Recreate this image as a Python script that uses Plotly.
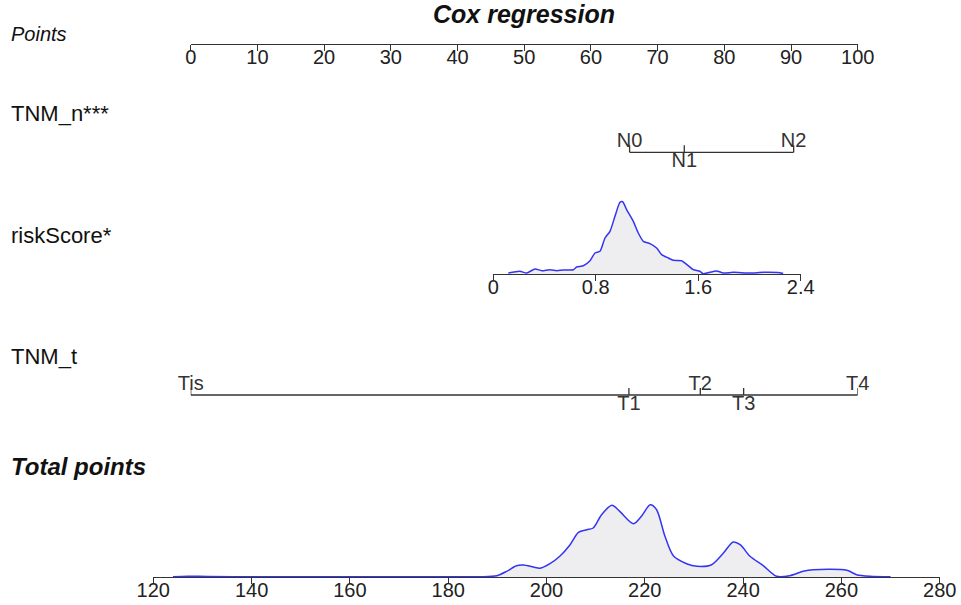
import plotly.graph_objects as go

# ---------------- data ----------------
points_ticks = [0, 10, 20, 30, 40, 50, 60, 70, 80, 90, 100]

tnm_n_levels = ["N0", "N1", "N2"]
tnm_n_points = [65.8, 74.0, 90.4]
tnm_n_side = ["top", "bottom", "top"]

tnm_t_levels = ["Tis", "T1", "T2", "T3", "T4"]
tnm_t_points = [0, 65.7, 76.4, 82.9, 100]
tnm_t_side = ["top", "bottom", "top", "bottom", "top"]

risk_ticks = [0, 0.8, 1.6, 2.4]
risk_ticktext = ["0", "0.8", "1.6", "2.4"]
risk_x = [0.117, 0.208, 0.26, 0.326, 0.378, 0.443, 0.495, 0.547, 0.625, 0.651, 0.703,
          0.755, 0.794, 0.833, 0.872, 0.911, 0.950, 0.989, 1.010, 1.041, 1.093, 1.132,
          1.171, 1.223, 1.275, 1.314, 1.366, 1.405, 1.470, 1.522, 1.561, 1.613, 1.639,
          1.743, 1.795, 1.873, 2.003, 2.107, 2.237, 2.263]
risk_density = [1.0, 2.7, 1.0, 5.0, 3.3, 4.3, 3.3, 4.0, 4.3, 7.0, 8.3,
                 13.3, 21.0, 22.7, 36.0, 42.7, 57.7, 71.7, 72.3, 64.3, 52.7, 41.0,
                 32.7, 30.3, 26.0, 19.3, 16.0, 13.7, 13.3, 8.3, 4.3, 2.7, 0.3,
                 3.0, 1.0, 1.7, 1.0, 1.7, 1.3, 0.5]

total_ticks = [120, 140, 160, 180, 200, 220, 240, 260, 280]
total_x = [124, 127, 131, 140, 160, 180, 186.5, 189.9, 191.9, 193.9, 195.3, 197.3, 198.7,
           200.7, 202.7, 204.8, 206.5, 208.2, 209.5, 211.2, 213.3, 214.9, 217.7,
           219.4, 221.1, 222.4, 224.1, 225.8, 228.5, 230.6, 233.6, 236.0, 238.0,
           239.4, 241.4, 244.1, 246.8, 249.5, 252.2, 254.3, 261.1, 263.1, 265.8, 270]
total_density = [0.3, 0.8, 0.5, 0.3, 0.3, 0.3, 0.3, 1.3, 5.7, 11.3, 12.0, 10.0, 8.7,
                 13.3, 20.7, 32.3, 44.7, 47.3, 49.0, 62.3, 71.7, 65.7, 53.3,
                 61.3, 72.3, 67.3, 40.7, 21.3, 13.3, 10.7, 12.3, 24.0, 35.0,
                 32.3, 20.7, 11.3, 0.7, 1.3, 5.7, 7.3, 6.7, 2.3, 0.7, 0.2]

row_labels = ["Points", "TNM_n***", "riskScore*", "TNM_t", "Total points"]
title_text = "Cox regression"

# ---------------- layout helpers ----------------
W, H = 961, 605
FONT = "Liberation Sans, Arial, sans-serif"
LINE = "#333333"
BLUE = "#3434f4"
FILL = "#eeeef0"
TICK_H = 7


def py(v):
    return 1 - v / H


fig = go.Figure()

# Points axis anchor (invisible trace)
fig.add_trace(go.Scatter(x=[points_ticks[0]], y=[0], xaxis="x", yaxis="y",
                         mode="markers", marker=dict(opacity=0), hoverinfo="skip"))


def cat_row(levels, pts, sides, yaxis):
    xs, ys = [pts[0], pts[-1]], [0, 0]
    fig.add_trace(go.Scatter(x=xs, y=ys, xaxis="x", yaxis=yaxis, mode="lines",
                             line=dict(color=LINE, width=1.3), hoverinfo="skip",
                             cliponaxis=False))
    tx, ty = [], []
    for p in pts:
        tx += [p, p, None]
        ty += [0, TICK_H, None]
    fig.add_trace(go.Scatter(x=tx, y=ty, xaxis="x", yaxis=yaxis, mode="lines",
                             line=dict(color=LINE, width=1.3), hoverinfo="skip",
                             cliponaxis=False))
    fig.add_trace(go.Scatter(x=pts, y=[0] * len(pts), xaxis="x", yaxis=yaxis,
                             mode="text", text=levels,
                             textposition=[s + " center" for s in sides],
                             textfont=dict(family=FONT, size=20, color="#333333"),
                             hoverinfo="skip", cliponaxis=False))


cat_row(tnm_n_levels, tnm_n_points, tnm_n_side, "y2")
cat_row(tnm_t_levels, tnm_t_points, tnm_t_side, "y4")

fig.add_trace(go.Scatter(x=risk_x, y=risk_density, xaxis="x2", yaxis="y3",
                         mode="lines", fill="tozeroy", fillcolor=FILL,
                         line=dict(color=BLUE, width=1.5, shape="spline", smoothing=0.6),
                         hoverinfo="skip"))
fig.add_trace(go.Scatter(x=total_x, y=total_density, xaxis="x3", yaxis="y5",
                         mode="lines", fill="tozeroy", fillcolor=FILL,
                         line=dict(color=BLUE, width=1.5, shape="spline", smoothing=0.8),
                         hoverinfo="skip"))

axis_common = dict(showgrid=False, zeroline=False, showline=True, linecolor=LINE,
                   linewidth=1.3, ticks="outside", ticklen=6, tickcolor=LINE,
                   tickwidth=1.2, tickfont=dict(family=FONT, size=20, color="#222222"),
                   ticklabelstandoff=-11, fixedrange=True, automargin=False)

hidden_y = dict(visible=False, fixedrange=True, automargin=False)

fig.update_layout(
    width=W, height=H, margin=dict(l=0, r=0, t=0, b=0, pad=0, autoexpand=False),
    paper_bgcolor="white", plot_bgcolor="rgba(0,0,0,0)", showlegend=False,
    xaxis=dict(domain=[190.7 / W, 857.7 / W], range=[0, 100], anchor="y",
               tickvals=points_ticks, **axis_common),
    yaxis=dict(domain=[py(44), py(20)], range=[0, 1], **hidden_y),
    yaxis2=dict(domain=[py(172.3), py(132.3)], range=[-20, 20], anchor="x", **hidden_y),
    xaxis2=dict(domain=[493.3 / W, 800.7 / W], range=[0, 2.4], anchor="y3",
                tickvals=risk_ticks, ticktext=risk_ticktext, **axis_common),
    yaxis3=dict(domain=[py(274), py(194)], range=[0, 80], anchor="x2", **hidden_y),
    yaxis4=dict(domain=[py(415), py(375)], range=[-20, 20], anchor="x", **hidden_y),
    xaxis3=dict(domain=[153.3 / W, 939.7 / W], range=[120, 280], anchor="y5",
                tickvals=total_ticks, **axis_common),
    yaxis5=dict(domain=[py(577), py(497)], range=[0, 80], anchor="x3", **hidden_y),
)

label_y = [34, 113, 235, 356, 466]
label_style = [
    dict(size=20, style="italic", weight="normal"),
    dict(size=22, style="normal", weight="normal"),
    dict(size=22, style="normal", weight="normal"),
    dict(size=22, style="normal", weight="normal"),
    dict(size=24, style="italic", weight="bold"),
]
for txt, yy, st in zip(row_labels, label_y, label_style):
    fig.add_annotation(text=txt, xref="paper", yref="paper", x=9 / W, y=py(yy),
                       xanchor="left", yanchor="middle", showarrow=False,
                       font=dict(family=FONT, color="#111111", **st))

fig.add_annotation(text=title_text, xref="paper", yref="paper", x=524 / W, y=py(14),
                   xanchor="center", yanchor="middle", showarrow=False,
                   font=dict(family=FONT, size=25, color="#111111", style="italic",
                             weight="bold"))

fig.write_html("out.html")
